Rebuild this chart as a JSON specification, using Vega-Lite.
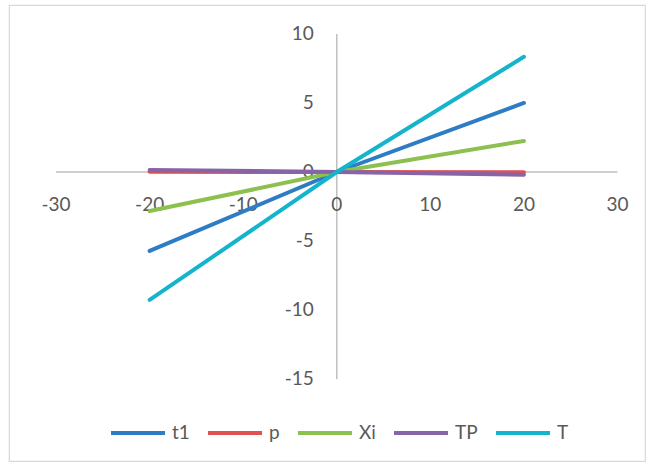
{
  "$schema": "https://vega.github.io/schema/vega-lite/v6.json",
  "width": 636,
  "height": 456,
  "autosize": "none",
  "padding": {"left": 9, "top": 5, "right": 3, "bottom": 5},
  "background": "white",
  "config": {
    "view": {"stroke": "#d9d9d9", "strokeWidth": 1.2},
    "font": "Lato"
  },
  "datasets": {
    "series": [
      {"name": "t1", "x": -20, "y": -5.72},
      {"name": "t1", "x": 0, "y": 0},
      {"name": "t1", "x": 20, "y": 5.0},
      {"name": "p", "x": -20, "y": 0.02},
      {"name": "p", "x": 0, "y": 0},
      {"name": "p", "x": 20, "y": -0.02},
      {"name": "Xi", "x": -20, "y": -2.83},
      {"name": "Xi", "x": 0, "y": 0},
      {"name": "Xi", "x": 20, "y": 2.25},
      {"name": "TP", "x": -20, "y": 0.15},
      {"name": "TP", "x": 0, "y": 0},
      {"name": "TP", "x": 20, "y": -0.2},
      {"name": "T", "x": -20, "y": -9.27},
      {"name": "T", "x": 0, "y": 0},
      {"name": "T", "x": 20, "y": 8.35}
    ],
    "xaxis": [{"x": -30, "x2": 30, "y": 0}],
    "yaxis": [{"x": 0, "y": -15, "y2": 10}],
    "xticks": [
      {"v": -30, "label": "-30"},
      {"v": -20, "label": "-20"},
      {"v": -10, "label": "-10"},
      {"v": 0, "label": "0"},
      {"v": 10, "label": "10"},
      {"v": 20, "label": "20"},
      {"v": 30, "label": "30"}
    ],
    "yticks": [
      {"v": -15, "label": "-15"},
      {"v": -10, "label": "-10"},
      {"v": -5, "label": "-5"},
      {"v": 0, "label": "0"},
      {"v": 5, "label": "5"},
      {"v": 10, "label": "10"}
    ]
  },
  "layer": [
    {
      "data": {"name": "xaxis"},
      "mark": {"type": "rule", "color": "#bfbfbf", "strokeWidth": 1.5},
      "encoding": {
        "x": {"field": "x", "type": "quantitative", "scale": {"domain": [-35.03, 32.94], "nice": false, "zero": false}, "axis": null},
        "x2": {"field": "x2"},
        "y": {"field": "y", "type": "quantitative", "scale": {"domain": [-20.94, 12.1], "nice": false, "zero": false}, "axis": null}
      }
    },
    {
      "data": {"name": "yaxis"},
      "mark": {"type": "rule", "color": "#bfbfbf", "strokeWidth": 1.5},
      "encoding": {
        "x": {"field": "x", "type": "quantitative", "axis": null},
        "y": {"field": "y", "type": "quantitative", "axis": null},
        "y2": {"field": "y2"}
      }
    },
    {
      "data": {"name": "xticks"},
      "mark": {"type": "text", "fontSize": 19, "color": "#595959", "align": "center", "baseline": "middle", "dy": 33},
      "encoding": {
        "x": {"field": "v", "type": "quantitative", "axis": null},
        "y": {"datum": 0, "type": "quantitative", "axis": null},
        "text": {"field": "label"}
      }
    },
    {
      "data": {"name": "yticks"},
      "mark": {"type": "text", "fontSize": 19, "color": "#595959", "align": "right", "baseline": "middle", "dx": -23},
      "encoding": {
        "x": {"datum": 0, "type": "quantitative", "axis": null},
        "y": {"field": "v", "type": "quantitative", "axis": null},
        "text": {"field": "label"}
      }
    },
    {
      "data": {"name": "series"},
      "mark": {"type": "line", "strokeWidth": 4, "strokeCap": "round"},
      "encoding": {
        "x": {"field": "x", "type": "quantitative", "axis": null},
        "y": {"field": "y", "type": "quantitative", "axis": null},
        "color": {
          "field": "name",
          "type": "nominal",
          "sort": ["t1", "p", "Xi", "TP", "T"],
          "scale": {"domain": ["t1", "p", "Xi", "TP", "T"], "range": ["#2e7dc4", "#e05252", "#8cc04f", "#8763a8", "#14b4cc"]},
          "legend": {
            "title": null,
            "orient": "none",
            "direction": "horizontal",
            "legendX": 100,
            "legendY": 399,
            "symbolType": "stroke",
            "symbolSize": 2916,
            "symbolStrokeWidth": 4,
            "labelFontSize": 19,
            "labelColor": "#595959",
            "labelOffset": 5,
            "columnPadding": 10,
            "symbolOffset": 0
          }
        },
        "order": {"field": "x", "type": "quantitative"}
      }
    }
  ]
}
